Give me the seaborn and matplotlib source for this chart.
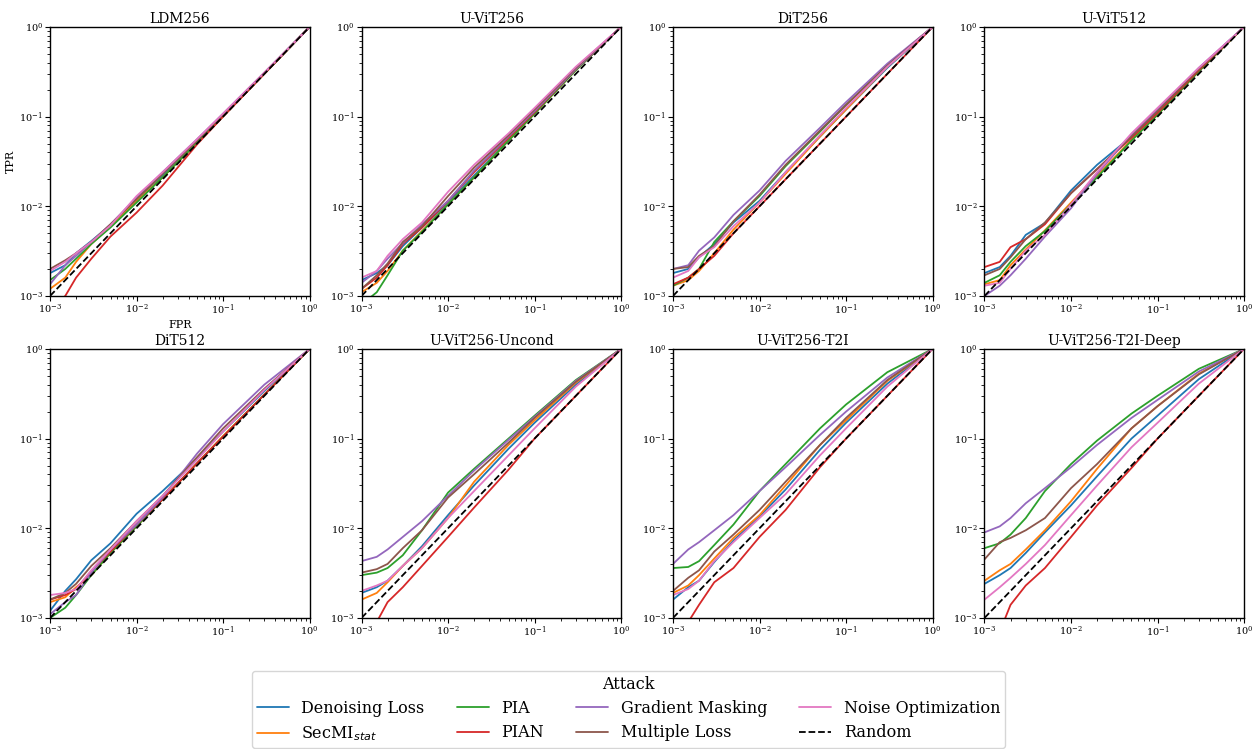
import numpy as np
import pandas as pd
import matplotlib
matplotlib.use("Agg")
import matplotlib.pyplot as plt
import seaborn as sns

fpr = [1e-3, 1.5e-3, 2e-3, 3e-3, 5e-3, 1e-2, 2e-2, 5e-2, 1e-1, 3e-1, 1.0]

attacks = ["Denoising Loss", "SecMI$_{stat}$", "PIA", "PIAN",
           "Gradient Masking", "Multiple Loss", "Noise Optimization"]
models = ["LDM256", "U-ViT256", "DiT256", "U-ViT512",
          "DiT512", "U-ViT256-Uncond", "U-ViT256-T2I", "U-ViT256-T2I-Deep"]

# TPR per model, one list per attack (same order as attacks)
ldm256 = [
    [1.8e-3, 2.2e-3, 3.0e-3, 4.1e-3, 6.2e-3, 1.2e-2, 2.2e-2, 5.3e-2, 0.104, 0.305, 1],
    [1.2e-3, 1.6e-3, 2.4e-3, 3.8e-3, 6.0e-3, 1.15e-2, 2.1e-2, 5.1e-2, 0.101, 0.302, 1],
    [1.5e-3, 2.0e-3, 2.6e-3, 3.8e-3, 5.8e-3, 1.1e-2, 2.1e-2, 5.1e-2, 0.101, 0.301, 1],
    [0.7e-3, 1.0e-3, 1.6e-3, 2.6e-3, 4.6e-3, 8.5e-3, 1.7e-2, 4.9e-2, 0.100, 0.300, 1],
    [1.35e-3, 2.2e-3, 2.8e-3, 4.0e-3, 6.3e-3, 1.25e-2, 2.4e-2, 5.6e-2, 0.108, 0.31, 1],
    [2.0e-3, 2.5e-3, 3.0e-3, 4.0e-3, 6.3e-3, 1.2e-2, 2.3e-2, 5.4e-2, 0.106, 0.308, 1],
    [1.9e-3, 2.4e-3, 3.0e-3, 4.0e-3, 6.1e-3, 1.3e-2, 2.4e-2, 5.6e-2, 0.108, 0.31, 1],
]
uvit256 = [
    [1.5e-3, 1.8e-3, 2.2e-3, 3.6e-3, 5.8e-3, 1.1e-2, 2.2e-2, 5.5e-2, 0.110, 0.33, 1],
    [1.1e-3, 1.4e-3, 1.9e-3, 3.2e-3, 5.3e-3, 1.05e-2, 2.1e-2, 5.4e-2, 0.108, 0.33, 1],
    [0.8e-3, 1.1e-3, 1.7e-3, 3.2e-3, 5.2e-3, 1.05e-2, 2.1e-2, 5.4e-2, 0.108, 0.33, 1],
    [1.2e-3, 1.6e-3, 2.2e-3, 3.8e-3, 5.8e-3, 1.15e-2, 2.4e-2, 5.8e-2, 0.112, 0.34, 1],
    [1.4e-3, 1.9e-3, 2.6e-3, 3.9e-3, 6.3e-3, 1.15e-2, 2.5e-2, 6.0e-2, 0.115, 0.34, 1],
    [1.2e-3, 1.7e-3, 2.3e-3, 4.0e-3, 6.0e-3, 1.3e-2, 2.7e-2, 6.2e-2, 0.120, 0.35, 1],
    [1.6e-3, 1.9e-3, 2.8e-3, 4.3e-3, 6.6e-3, 1.45e-2, 2.9e-2, 6.5e-2, 0.125, 0.36, 1],
]
dit256 = [
    [1.8e-3, 2.0e-3, 2.7e-3, 3.8e-3, 6.6e-3, 1.15e-2, 2.4e-2, 6.0e-2, 0.120, 0.35, 1],
    [1.3e-3, 1.5e-3, 1.9e-3, 3.0e-3, 5.5e-3, 1.1e-2, 2.3e-2, 6.0e-2, 0.120, 0.36, 1],
    [1.3e-3, 1.6e-3, 2.0e-3, 4.0e-3, 6.8e-3, 1.3e-2, 2.8e-2, 6.8e-2, 0.135, 0.37, 1],
    [1.35e-3, 1.6e-3, 2.0e-3, 2.8e-3, 5.0e-3, 1.0e-2, 2.0e-2, 5.0e-2, 0.100, 0.30, 1],
    [2.0e-3, 2.2e-3, 3.2e-3, 4.5e-3, 8.0e-3, 1.5e-2, 3.2e-2, 7.5e-2, 0.145, 0.39, 1],
    [2.0e-3, 2.1e-3, 2.8e-3, 3.6e-3, 6.8e-3, 1.35e-2, 2.9e-2, 7.0e-2, 0.135, 0.37, 1],
    [1.6e-3, 1.9e-3, 2.7e-3, 3.5e-3, 6.0e-3, 1.1e-2, 2.4e-2, 6.2e-2, 0.125, 0.36, 1],
]
uvit512 = [
    [1.8e-3, 2.1e-3, 2.8e-3, 4.8e-3, 6.5e-3, 1.5e-2, 2.9e-2, 6.0e-2, 0.115, 0.34, 1],
    [1.35e-3, 1.5e-3, 2.2e-3, 3.3e-3, 5.4e-3, 1.1e-2, 2.2e-2, 5.5e-2, 0.105, 0.32, 1],
    [1.4e-3, 1.7e-3, 2.4e-3, 3.6e-3, 5.3e-3, 1.05e-2, 2.1e-2, 5.4e-2, 0.105, 0.32, 1],
    [2.1e-3, 2.4e-3, 3.5e-3, 4.3e-3, 6.3e-3, 1.4e-2, 2.6e-2, 5.8e-2, 0.110, 0.33, 1],
    [1.0e-3, 1.3e-3, 1.7e-3, 2.6e-3, 4.6e-3, 0.95e-2, 2.3e-2, 6.3e-2, 0.120, 0.35, 1],
    [1.7e-3, 2.0e-3, 2.7e-3, 4.3e-3, 6.6e-3, 1.4e-2, 2.6e-2, 6.0e-2, 0.115, 0.34, 1],
    [1.3e-3, 1.4e-3, 2.0e-3, 3.2e-3, 4.8e-3, 1.05e-2, 2.4e-2, 6.5e-2, 0.125, 0.35, 1],
]
dit512 = [
    [1.2e-3, 2.0e-3, 2.7e-3, 4.4e-3, 6.8e-3, 1.45e-2, 2.6e-2, 6.0e-2, 0.120, 0.34, 1],
    [1.5e-3, 1.7e-3, 2.2e-3, 3.0e-3, 5.3e-3, 1.05e-2, 2.1e-2, 5.3e-2, 0.107, 0.31, 1],
    [1.0e-3, 1.3e-3, 1.8e-3, 3.0e-3, 5.3e-3, 1.05e-2, 2.1e-2, 5.3e-2, 0.105, 0.31, 1],
    [1.6e-3, 1.8e-3, 2.1e-3, 3.3e-3, 5.5e-3, 1.1e-2, 2.1e-2, 5.3e-2, 0.105, 0.31, 1],
    [1.1e-3, 1.5e-3, 1.8e-3, 3.2e-3, 5.8e-3, 1.1e-2, 2.2e-2, 6.8e-2, 0.145, 0.40, 1],
    [1.6e-3, 1.9e-3, 2.4e-3, 3.8e-3, 6.0e-3, 1.2e-2, 2.3e-2, 6.2e-2, 0.130, 0.36, 1],
    [1.8e-3, 1.9e-3, 2.1e-3, 3.4e-3, 5.8e-3, 1.2e-2, 2.3e-2, 5.8e-2, 0.120, 0.35, 1],
]
uvit256_uncond = [
    [1.9e-3, 2.2e-3, 2.6e-3, 3.8e-3, 6.3e-3, 1.4e-2, 3.0e-2, 7.7e-2, 0.150, 0.40, 1],
    [1.6e-3, 1.9e-3, 2.5e-3, 3.8e-3, 6.0e-3, 1.3e-2, 3.3e-2, 8.5e-2, 0.160, 0.42, 1],
    [3.0e-3, 3.2e-3, 3.6e-3, 5.0e-3, 9.5e-3, 2.5e-2, 4.6e-2, 1.0e-1, 0.180, 0.45, 1],
    [0.6e-3, 0.9e-3, 1.5e-3, 2.2e-3, 3.8e-3, 8.0e-3, 1.7e-2, 4.5e-2, 0.100, 0.30, 1],
    [4.3e-3, 4.8e-3, 5.8e-3, 8.0e-3, 1.2e-2, 2.3e-2, 4.4e-2, 9.7e-2, 0.175, 0.44, 1],
    [3.2e-3, 3.5e-3, 4.0e-3, 6.0e-3, 9.5e-3, 2.2e-2, 4.0e-2, 9.0e-2, 0.170, 0.43, 1],
    [2.0e-3, 2.3e-3, 2.6e-3, 3.8e-3, 6.0e-3, 1.3e-2, 2.6e-2, 6.5e-2, 0.130, 0.38, 1],
]
uvit256_t2i = [
    [1.6e-3, 2.2e-3, 2.6e-3, 4.2e-3, 7.3e-3, 1.35e-2, 2.7e-2, 7.5e-2, 0.150, 0.41, 1],
    [1.9e-3, 2.3e-3, 3.0e-3, 4.6e-3, 7.8e-3, 1.4e-2, 3.0e-2, 8.5e-2, 0.160, 0.44, 1],
    [3.6e-3, 3.7e-3, 4.3e-3, 6.5e-3, 1.1e-2, 2.6e-2, 5.2e-2, 1.3e-1, 0.240, 0.55, 1],
    [0.6e-3, 0.9e-3, 1.4e-3, 2.5e-3, 3.6e-3, 8.0e-3, 1.6e-2, 4.8e-2, 0.100, 0.30, 1],
    [4.0e-3, 5.8e-3, 7.0e-3, 9.5e-3, 1.4e-2, 2.6e-2, 4.8e-2, 1.1e-1, 0.200, 0.48, 1],
    [2.0e-3, 2.8e-3, 3.4e-3, 5.5e-3, 8.5e-3, 1.6e-2, 3.3e-2, 8.5e-2, 0.170, 0.45, 1],
    [1.8e-3, 2.1e-3, 2.6e-3, 4.3e-3, 7.0e-3, 1.3e-2, 2.4e-2, 6.5e-2, 0.130, 0.38, 1],
]
uvit256_t2i_deep = [
    [2.4e-3, 3.0e-3, 3.6e-3, 5.3e-3, 9.0e-3, 1.8e-2, 3.8e-2, 1.0e-1, 0.180, 0.46, 1],
    [2.6e-3, 3.4e-3, 4.0e-3, 5.8e-3, 9.5e-3, 2.0e-2, 4.6e-2, 1.3e-1, 0.230, 0.53, 1],
    [6.0e-3, 6.8e-3, 8.5e-3, 1.3e-2, 2.6e-2, 5.2e-2, 9.5e-2, 1.9e-1, 0.300, 0.60, 1],
    [0.5e-3, 0.7e-3, 1.4e-3, 2.3e-3, 3.6e-3, 8.0e-3, 1.8e-2, 4.7e-2, 0.100, 0.30, 1],
    [9.0e-3, 1.05e-2, 1.3e-2, 1.9e-2, 2.8e-2, 4.8e-2, 8.5e-2, 1.7e-1, 0.270, 0.56, 1],
    [4.5e-3, 7.0e-3, 7.8e-3, 9.5e-3, 1.3e-2, 2.8e-2, 5.2e-2, 1.3e-1, 0.230, 0.52, 1],
    [1.6e-3, 2.2e-3, 2.8e-3, 4.0e-3, 6.5e-3, 1.4e-2, 3.0e-2, 8.0e-2, 0.150, 0.41, 1],
]
tpr_by_model = [ldm256, uvit256, dit256, uvit512,
                dit512, uvit256_uncond, uvit256_t2i, uvit256_t2i_deep]

rows = []
for m, curves in zip(models, tpr_by_model):
    for a, tpr in zip(attacks, curves):
        for x, y in zip(fpr, tpr):
            rows.append({"model": m, "attack": a, "fpr": x, "tpr": y})
df = pd.DataFrame(rows)

sns.set_style("ticks")
plt.rcParams["font.family"] = ["DejaVu Serif"]
plt.rcParams.update({
    "xtick.labelsize": 7, "ytick.labelsize": 7,
    "axes.edgecolor": "black", "axes.linewidth": 1.0,
    "xtick.color": "black", "ytick.color": "black",
    "text.color": "black", "axes.labelcolor": "black",
})

palette = dict(zip(attacks, sns.color_palette("tab10", 7)))

fig, axes = plt.subplots(2, 4, figsize=(12.57, 7.49), dpi=100)
fig.subplots_adjust(left=0.0398, right=0.9897, top=0.964, bottom=0.175,
                    wspace=0.2, hspace=0.197)

for ax, m in zip(axes.flat, models):
    sub = df[df["model"] == m]
    sns.lineplot(data=sub, x="fpr", y="tpr", hue="attack", hue_order=attacks,
                 palette=palette, estimator=None, sort=False, linewidth=1.3,
                 legend=False, ax=ax)
    ax.plot(fpr, fpr, "k--", linewidth=1.3)
    ax.set_xscale("log")
    ax.set_yscale("log")
    ax.set_xlim(1e-3, 1)
    ax.set_ylim(1e-3, 1)
    ax.set_title(m, fontsize=10, pad=3)
    ax.set_xlabel("")
    ax.set_ylabel("")
    ax.tick_params(which="major", length=3.5, pad=1.5)
    ax.tick_params(which="minor", length=2)

axes[0, 0].set_xlabel("FPR", fontsize=8, labelpad=2)
axes[0, 0].set_ylabel("TPR", fontsize=8, labelpad=2)

handles = [plt.Line2D([], [], color=palette[a], linewidth=1.3) for a in attacks]
handles.append(plt.Line2D([], [], color="k", linestyle="--", linewidth=1.3))
labels = attacks + ["Random"]
fig.legend(handles, labels, loc="lower center", bbox_to_anchor=(0.5, -0.009),
           ncol=4, fontsize=11.5, title="Attack", title_fontsize=11.5,
           frameon=True, columnspacing=2.0, handlelength=2.0,
           handletextpad=0.8, borderpad=0.3, labelspacing=0.45)

fig.savefig("out.png", dpi=100)
